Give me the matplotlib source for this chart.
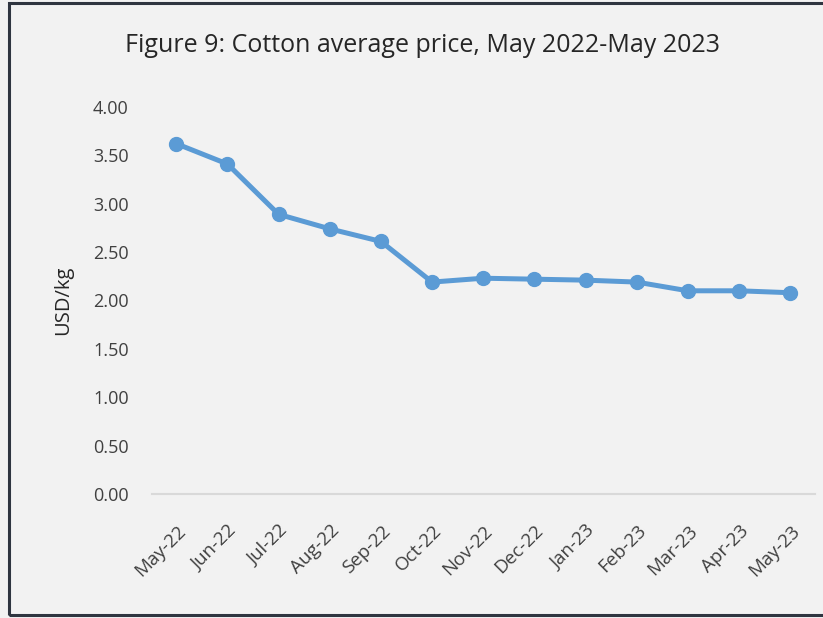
import matplotlib.pyplot as plt
from matplotlib.patches import Rectangle

months = ["May-22", "Jun-22", "Jul-22", "Aug-22", "Sep-22", "Oct-22", "Nov-22",
          "Dec-22", "Jan-23", "Feb-23", "Mar-23", "Apr-23", "May-23"]
price = [3.62, 3.41, 2.89, 2.74, 2.61, 2.19, 2.23, 2.22, 2.21, 2.19, 2.10, 2.10, 2.08]
yticks = [0.0, 0.5, 1.0, 1.5, 2.0, 2.5, 3.0, 3.5, 4.0]

plt.rcParams['font.family'] = ['Open Sans', 'DejaVu Sans']
text_col = "#404040"

fig = plt.figure(figsize=(8.23, 6.18), dpi=100, facecolor="#f2f2f2")
ax = fig.add_axes([0.185, 0.2006, 0.805, 0.6264])
ax.set_facecolor("#f2f2f2")

# frame round the chart
fig.patches.append(Rectangle((9 / 823, 3 / 618), 1.2, 612 / 618, transform=fig.transFigure,
                             fill=False, edgecolor="#2f3540", linewidth=2.2))

x = list(range(len(months)))
ax.plot(x, price, color="#5b9bd5", linewidth=3.6, marker="o", markersize=10,
        solid_capstyle="round")

ax.set_xlim(-0.47, len(months) - 0.52)
ax.set_ylim(0, 4)
ax.set_yticks(yticks)
ax.set_yticklabels([f"{v:.2f}" for v in yticks], fontsize=13, color=text_col)
ax.set_xticks(x)
ax.set_xticklabels(months, rotation=45, ha="right", rotation_mode="anchor",
                   fontsize=13.5, color=text_col)
ax.tick_params(axis="both", length=0)
ax.tick_params(axis="y", pad=17)
ax.tick_params(axis="x", pad=20)

for s in ["top", "right", "left"]:
    ax.spines[s].set_visible(False)
ax.spines["bottom"].set_color("#d9d9d9")
ax.spines["bottom"].set_linewidth(1.5)

ax.set_ylabel("USD/kg", fontsize=14.5, color="#262626", labelpad=14)
fig.text(0.513, 0.927, "Figure 9: Cotton average price, May 2022-May 2023",
         ha="center", va="center", fontsize=18, color="#262626")

fig.savefig("out.png", dpi=100, facecolor=fig.get_facecolor())
